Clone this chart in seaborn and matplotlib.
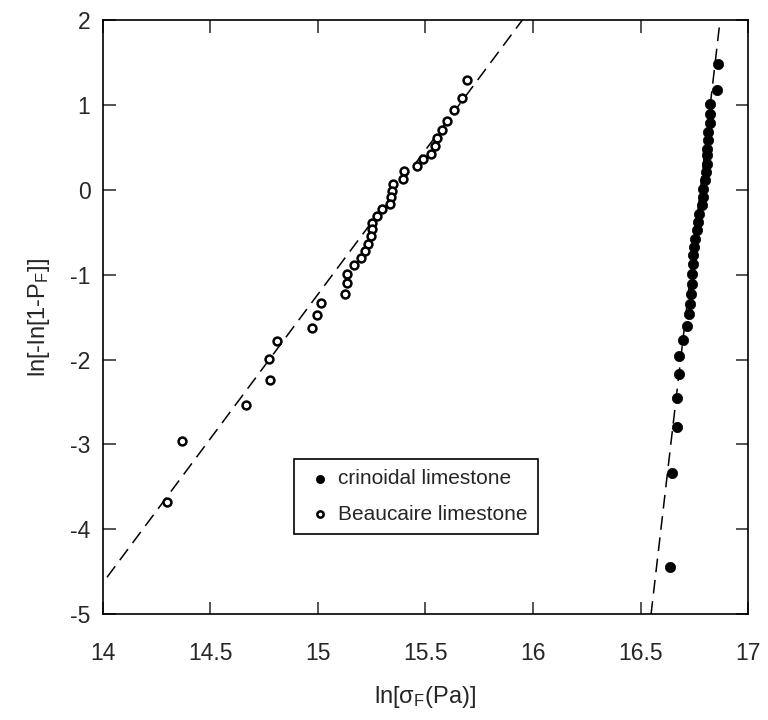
import numpy as np
import pandas as pd
import matplotlib
matplotlib.use('Agg')
import matplotlib.pyplot as plt
import seaborn as sns

# Weibull plot data: ln(strength) vs ln(-ln(1-P))
crin_x = [16.862, 16.854, 16.823, 16.823, 16.823, 16.815, 16.815, 16.811, 16.811, 16.808,
          16.805, 16.800, 16.792, 16.789, 16.785, 16.774, 16.769, 16.761, 16.753, 16.750,
          16.746, 16.743, 16.738, 16.738, 16.733, 16.730, 16.727, 16.718, 16.697, 16.679,
          16.679, 16.671, 16.671, 16.645, 16.637]
crin_y = [1.478, 1.172, 1.015, 0.897, 0.787, 0.681, 0.583, 0.485, 0.406, 0.309,
          0.210, 0.112, 0.014, -0.085, -0.183, -0.281, -0.379, -0.477, -0.575, -0.674,
          -0.771, -0.869, -0.987, -1.105, -1.223, -1.340, -1.458, -1.608, -1.770, -1.961,
          -2.165, -2.448, -2.794, -3.331, -4.443]

beau_x = [15.692, 15.668, 15.634, 15.601, 15.575, 15.552, 15.544, 15.526, 15.490, 15.459,
          15.400, 15.397, 15.347, 15.344, 15.340, 15.335, 15.299, 15.273, 15.250, 15.250,
          15.245, 15.234, 15.219, 15.200, 15.167, 15.133, 15.133, 15.126, 15.013, 14.994,
          14.972, 14.808, 14.773, 14.777, 14.665, 14.366, 14.299]
beau_y = [1.290, 1.081, 0.936, 0.807, 0.701, 0.610, 0.512, 0.426, 0.359, 0.277,
          0.218, 0.132, 0.065, -0.014, -0.085, -0.171, -0.230, -0.312, -0.386, -0.465,
          -0.544, -0.634, -0.721, -0.804, -0.886, -0.987, -1.093, -1.223, -1.329, -1.478,
          -1.623, -1.784, -1.988, -2.244, -2.538, -2.962, -3.681]

# fitted lines: y = m * (x - x0) + b
crin_fit = (21.8, 16.549, -5.0)
beau_fit = (3.40, 14.0, -4.63)

sns.set_style('ticks')
plt.rcParams['font.family'] = ['Liberation Sans', 'DejaVu Sans']
plt.rcParams['mathtext.fontset'] = 'custom'
plt.rcParams['mathtext.rm'] = 'Liberation Sans'
plt.rcParams['axes.unicode_minus'] = False

fig = plt.figure(figsize=(7.68, 7.2), dpi=100)
ax = fig.add_axes([0.134, 0.147, 0.840, 0.825])

xx = np.linspace(13.9, 17.1, 200)
for m, x0, b in [crin_fit, beau_fit]:
    ax.plot(xx, m * (xx - x0) + b, color='black', lw=1.1, ls=(0, (9, 5)), zorder=2)

df_c = pd.DataFrame({'x': crin_x, 'y': crin_y})
df_b = pd.DataFrame({'x': beau_x, 'y': beau_y})
sns.scatterplot(data=df_c, x='x', y='y', ax=ax, color='black', s=55, edgecolor='black',
                linewidth=0.5, label='crinoidal limestone', zorder=3)
sns.scatterplot(data=df_b, x='x', y='y', ax=ax, facecolor='white', s=32, edgecolor='black',
                linewidth=1.8, label='Beaucaire limestone', zorder=3)

ax.set_xlim(14, 17)
ax.set_ylim(-5, 2)
ax.set_xticks([14, 14.5, 15, 15.5, 16, 16.5, 17])
ax.set_xticklabels(['14', '14.5', '15', '15.5', '16', '16.5', '17'])
ax.set_yticks(range(-5, 3))
ax.tick_params(direction='in', length=9, width=1.1, labelsize=16.5, top=True, right=True)
ax.tick_params(axis='x', pad=20)
ax.tick_params(axis='y', pad=9)
for s in ax.spines.values():
    s.set_linewidth(1.2)
    s.set_color('black')

ax.set_xlabel(r'ln[$\mathregular{\sigma_F}$(Pa)]', fontsize=17, labelpad=14)
ax.set_ylabel(r'ln[-ln[1-$\mathregular{P_F}$]]', fontsize=17, labelpad=13)

leg = ax.legend(loc='lower left', bbox_to_anchor=(0.296, 0.1347), fontsize=15, frameon=True,
                fancybox=False, framealpha=1, edgecolor='black', markerscale=0.8,
                handletextpad=0.1, borderpad=0.5, labelspacing=0.78, handlelength=1.5,
                borderaxespad=0)
leg.get_frame().set_linewidth(1.2)

fig.savefig('out.png', dpi=100)
